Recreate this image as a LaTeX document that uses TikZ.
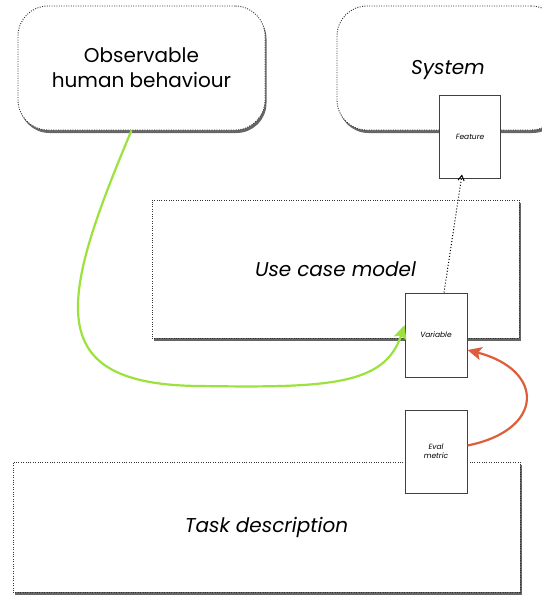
\documentclass[tikz,border=0pt]{standalone}
\usepackage{fontspec}
\setmainfont{Poppins}
\usetikzlibrary{positioning}
\usetikzlibrary{shadows}
\usetikzlibrary{arrows.meta}

\definecolor{limeline}{HTML}{9BE23C}
\definecolor{rustline}{HTML}{DE5E3C}

\tikzset{
  area/.style = {draw = black!80, dash pattern = on 1pt off 1.4pt, fill = white, line width = 0.9pt,
                 drop shadow = {fill = black!75, opacity = 0.8, shadow xshift = 1.5pt, shadow yshift = -3pt}},
  cloud/.style = {area, rounded corners = 30pt},
  item/.style = {draw = black!75, fill = white, line width = 1pt, font = \itshape\fontsize{7.5}{9}\selectfont, align = center, inner sep = 0pt},
  bigtext/.style = {font = \fontsize{20}{25}\selectfont, align = center},
  flow/.style = {line width = 2.2pt, -{Stealth[length = 14pt, width = 13pt, inset = 3pt]}},
}

\begin{document}
\begin{tikzpicture}[x = 1pt, y = -1pt]
\useasboundingbox (0, 0) rectangle (541, 597);

% upper areas
\node [cloud, bigtext, minimum width = 247pt, minimum height = 124pt] (human) at (141.5, 68) {Observable\\human behaviour};
\node [cloud, minimum width = 224pt, minimum height = 124pt] (system) at (449, 68) {};
\node [bigtext, font = \itshape\fontsize{20}{25}\selectfont] (systemlabel) at (448, 70) {System};

% middle and lower areas
\node [area, bigtext, font = \itshape\fontsize{20}{25}\selectfont, minimum width = 367pt, minimum height = 138pt] (usecase) at (335.5, 269) {Use case model};
\node [area, bigtext, font = \itshape\fontsize{20}{25}\selectfont, minimum width = 507pt, minimum height = 130pt] (task) at (266.5, 527) {Task description};

% small boxes
\node [item, minimum width = 61pt, minimum height = 83pt] (feature) at (470, 136.5) {Feature};
\node [item, minimum width = 62pt, minimum height = 84pt] (variable) at (436, 335) {Variable};
\node [item, minimum width = 62pt, minimum height = 83pt] (metric) at (436, 451.5) {Eval\\metric};

% connectors
\draw [black, line width = 1pt, dash pattern = on 1pt off 2pt, -{Straight Barb[length = 5pt, width = 6pt]}] (variable.north) ++(8, 0) -- ([xshift = -8pt, yshift = 4pt]feature.south);
\draw [limeline, flow]
  ([xshift = -10pt]human.south) .. controls (60, 300) and (40, 385) .. (200, 386)
  .. controls (330, 388) and (385, 385) .. ([yshift = 10pt]variable.west);
\draw [rustline, flow]
  ([yshift = 6pt]metric.east) .. controls (545, 430) and (545, 370) .. ([yshift = -15pt]variable.east);
\end{tikzpicture}
\end{document}
